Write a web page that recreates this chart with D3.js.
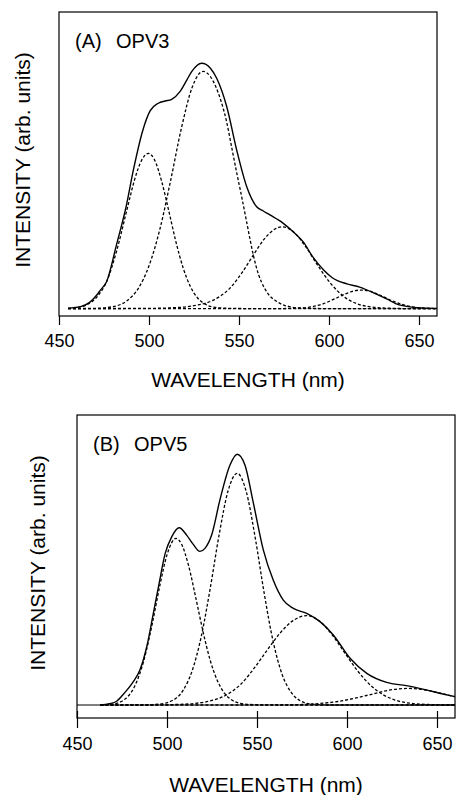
<!DOCTYPE html>
<meta charset="utf-8">
<head>
    <style>
        body { margin: 0; background: #fff; }
        text { fill: black; font-family: "Liberation Sans", Arial, sans-serif; }
        .frame { fill: none; stroke: black; stroke-width: 1.2px; }
        .total { fill: none; stroke: black; stroke-width: 1.4px; }
        .peak { fill: none; stroke: black; stroke-width: 1.3px; stroke-dasharray: 3,2; }
    </style>
    <script src="https://d3js.org/d3.v7.min.js"></script>
</head>
<body>
<script>
    // wavelength ticks shared by both panels
    var wavelengthTicks = [450, 500, 550, 600, 650];

    // (A) OPV3 -- measured spectrum and the four fitted bands, [nm, intensity]
    var opv3Total = [[455,0.2],[462,0.8],[467,2.5],[471,5.5],[473,7.5],[476.5,11],[482,26],[487.5,42],[491.3,56],
        [496.5,72],[500.6,80],[505.2,83.1],[509,84],[512.6,84.7],[517.2,87.8],[521,92.5],[523.7,95.9],[529.3,99.3],
        [534,97.4],[537.6,93.2],[543.2,81.7],[548.7,64.2],[554.3,49.3],[559.8,41.2],[563.5,39.5],[567.2,37.9],
        [574.6,34.5],[581,30.5],[585.7,27],[591,20.9],[597,15.6],[602,12.4],[610,10],[617,8.7],[625,6.3],
        [632,3.9],[639,1.5],[649,0.4],[660,0.1]];
    var opv3Peak1 = [[455,0.1],[460,0.4],[465,1.4],[472,5.5],[476.5,11],[482,23.3],[488,40.8],[492,52.2],[496,60.2],
        [499.6,62.8],[503,60.3],[507,51.6],[511,39.5],[515,26.9],[519,16.4],[523,8.9],[527,4.3],[531,1.9],[536,0.6],
        [545,0.1],[560,0],[660,0]];
    var opv3Peak2 = [[455,0],[470,0.1],[480,0.8],[488,3.3],[494,8.1],[500,17.3],[506,32],[512,51.8],[518,73],
        [524,89.6],[530,96],[534,94],[537,90],[540,84],[543,76],[546,65],[549,54],[551,47],[554,36],[556,28.5],
        [558,21.5],[561,13.5],[564,8.5],[567,5.2],[570,3.4],[573,2],[578,0.8],[585,0.2],[600,0],[660,0]];
    var opv3Peak3 = [[455,0],[500,0.1],[515,0.4],[525,1.2],[535,3.2],[545,8.3],[552,14.9],[558,21.7],[564,28.1],
        [570,32.2],[574,33.1],[580,31.2],[587,25.1],[594,17.2],[601,10.1],[608,5],[615,2.1],[623,0.7],[632,0.2],
        [645,0],[660,0]];
    var opv3Peak4 = [[455,0],[570,0],[580,0.1],[590,0.7],[597,2],[603,3.9],[609,5.9],[614,7.2],[618,7.5],[623,7],
        [629,5.2],[635,3.2],[641,1.6],[648,0.5],[656,0.1],[660,0]];

    // (B) OPV5
    var opv5Total = [[463,0],[468,0.5],[472,1.5],[476,4.5],[481,9],[485,14],[489,24],[492.4,36.5],[495.5,48],
        [499,60.4],[502.6,67],[506.8,70.6],[510.9,67.7],[514.6,64],[518.3,61.2],[521.1,62.4],[524.8,67.7],
        [529.4,81.7],[535,95.6],[539,99.9],[543.3,95.6],[548,80.4],[553.5,61.8],[559,49.8],[564.6,41.8],
        [570.2,38.5],[577.6,36.5],[585,33.2],[592.4,27.9],[601.7,18.6],[611,12.6],[622,9],[633,7.7],[644,6],
        [652,4.6],[660,3.3]];
    var opv5Peak1 = [[463,0],[470,0.4],[476,2],[482,7.4],[487,17.4],[492,33],[496,47.5],[500,59.8],[505,66.4],
        [508,64.2],[512,55.5],[516,42.7],[520,29.3],[524,17.8],[528,9.7],[532,4.6],[536,2],[541,0.6],[550,0.1],
        [565,0],[660,0]];
    var opv5Peak2 = [[463,0],[485,0],[495,0.3],[503,1.8],[509,5.9],[514,13.7],[519,27.2],[524,46.4],[529,68],
        [534,85.5],[539,92.3],[544,85.1],[549,66.7],[554,44.5],[559,25.2],[564,12.1],[569,5],[574,1.7],[580,0.4],
        [590,0],[660,0]];
    var opv5Peak3 = [[463,0],[490,0],[505,0.2],[515,0.6],[525,1.8],[533,4],[541,8.3],[549,15.2],[556,22.2],
        [563,28.8],[570,33.6],[577.6,35.6],[585,33.3],[592,27.7],[599,20.5],[606,13.5],[613,7.9],[620,4.1],
        [627,1.9],[635,0.7],[645,0.2],[655,0],[660,0]];
    var opv5Peak4 = [[463,0],[560,0],[575,0.2],[585,0.6],[595,1.4],[605,2.8],[615,4.5],[625,6.1],[634,6.6],
        [645,5.8],[653,4.5],[660,3.3]];

    var svg = d3.select("body").append("svg")
        .attr("width", 457)
        .attr("height", 795);

    function drawPanel(p) {
        var g = svg.append("g");

        var x = d3.scaleLinear().domain([450, 660]).range([p.left, p.right]);
        var y = d3.scaleLinear().domain([0, 100]).range([p.zeroY, p.peakY]);

        g.append("rect").attr("class", "frame")
            .attr("x", p.left).attr("y", p.top)
            .attr("width", p.right - p.left).attr("height", p.bottom - p.top);

        if (p.zeroLine) {
            g.append("line").attr("class", "frame")
                .attr("x1", p.left).attr("x2", p.right)
                .attr("y1", y(0)).attr("y2", y(0));
        }

        var axis = g.append("g")
            .attr("transform", "translate(0," + p.bottom + ")")
            .call(d3.axisBottom(x).tickValues(wavelengthTicks).tickSize(p.tickDown).tickPadding(9));
        axis.select(".domain").remove();
        axis.selectAll(".tick line").attr("y1", -p.tickUp).attr("stroke-width", 1.2);
        axis.selectAll(".tick text")
            .style("font-family", "'Liberation Sans', Arial, sans-serif")
            .style("font-size", "18px");

        var line = d3.line()
            .x(function(d) { return x(d[0]); })
            .y(function(d) { return y(d[1]); })
            .curve(d3.curveMonotoneX);

        p.peaks.forEach(function(pk) {
            g.append("path").attr("class", "peak").attr("d", line(pk));
        });
        g.append("path").attr("class", "total").attr("d", line(p.total));

        var title = g.append("text")
            .attr("y", p.titleY)
            .style("font-size", "20px");
        title.append("tspan").attr("x", p.titleX).text(p.tag);
        title.append("tspan").attr("x", p.titleX + 41).text(p.name);

        g.append("text")
            .attr("x", (p.left + p.right) / 2)
            .attr("y", p.xLabelY)
            .attr("text-anchor", "middle")
            .style("font-size", "21px")
            .text("WAVELENGTH (nm)");

        g.append("text")
            .attr("transform", "translate(" + p.yLabelX + "," + p.yLabelMid + ") rotate(-90)")
            .attr("text-anchor", "middle")
            .style("font-size", "21px")
            .text("INTENSITY (arb. units)");
    }

    drawPanel({
        left: 59, right: 437, top: 12, bottom: 316,
        zeroY: 308.6, peakY: 61.5, zeroLine: false,
        tickDown: 9, tickUp: 0,
        total: opv3Total, peaks: [opv3Peak1, opv3Peak2, opv3Peak3, opv3Peak4],
        tag: "(A)", name: "OPV3", titleX: 75, titleY: 48,
        xLabelY: 386.5, yLabelX: 29.5, yLabelMid: 160
    });

    drawPanel({
        left: 77, right: 455, top: 415, bottom: 718,
        zeroY: 705, peakY: 454, zeroLine: true,
        tickDown: 10, tickUp: 7,
        total: opv5Total, peaks: [opv5Peak1, opv5Peak2, opv5Peak3, opv5Peak4],
        tag: "(B)", name: "OPV5", titleX: 93, titleY: 451,
        xLabelY: 792, yLabelX: 45, yLabelMid: 563
    });
</script>
</body>
